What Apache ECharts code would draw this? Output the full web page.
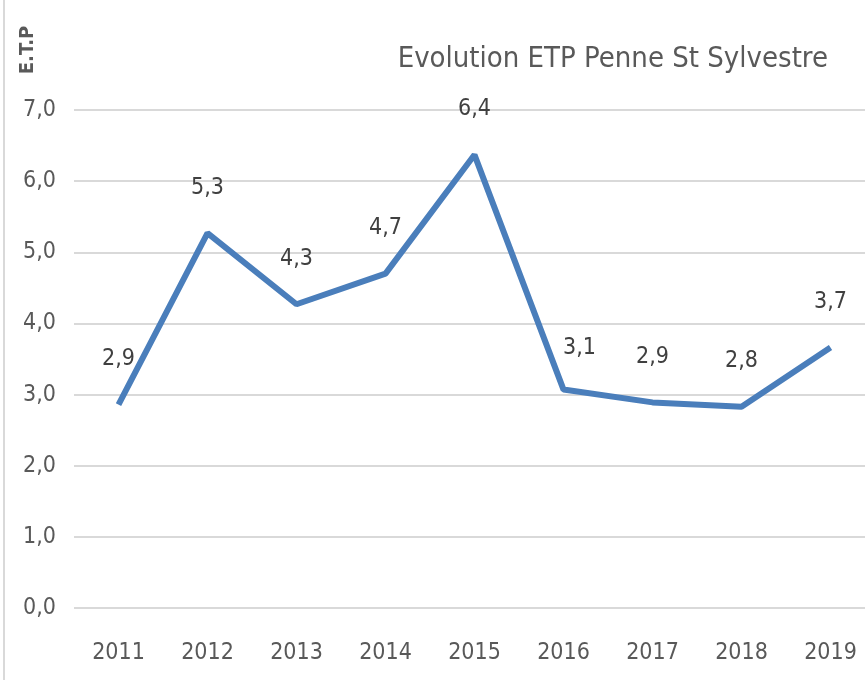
<!DOCTYPE html>
<html lang="fr">
  <head>
    <meta charset="UTF-8" />
    <title>Evolution ETP</title>
    <script src="https://cdn.jsdelivr.net/npm/echarts@6/dist/echarts.min.js"></script>
    <style>
      html, body { margin: 0; padding: 0; background: #fff; }
    </style>
  </head>
  <body>
    <div id="main" style="width: 865px; height: 680px;"></div>
    <script>
      // données
      var years = ["2011", "2012", "2013", "2014", "2015", "2016", "2017", "2018", "2019"];
      var etp = [2.86, 5.27, 4.27, 4.7, 6.37, 3.07, 2.89, 2.83, 3.66];
      var yTicks = [0, 1, 2, 3, 4, 5, 6, 7];

      var font = "'Liberation Sans Narrow', 'DejaVu Sans Condensed', sans-serif";
      function fr(v) {
        return v.toFixed(1).replace(".", ",");
      }

      // l'étiquette 2016 est décalée à droite dans l'original
      var points = etp.map(function (v, i) {
        if (i === 5) return { value: v, label: { offset: [16, 4] } };
        return v;
      });

      var myChart = echarts.init(document.getElementById("main"));
      var option = {
        animation: false,
        title: {
          text: "Evolution ETP Penne St Sylvestre",
          right: 32,
          top: 40,
          textStyle: { fontFamily: font, fontSize: 29, fontWeight: "normal", color: "#595959" }
        },
        graphic: [
          {
            type: "line",
            shape: { x1: 4, y1: 0, x2: 4, y2: 680 },
            style: { stroke: "#d9d9d9", lineWidth: 2 }
          },
          {
            type: "text",
            x: 28,
            y: 50,
            rotation: Math.PI / 2,
            style: {
              text: "E.T.P",
              align: "center",
              verticalAlign: "middle",
              fontFamily: font,
              fontSize: 20,
              fontWeight: "bold",
              fill: "#595959"
            }
          }
        ],
        grid: { left: 74, width: 801, top: 110, bottom: 72, outerBoundsMode: "none" },
        xAxis: {
          type: "category",
          data: years,
          axisLine: { show: false },
          axisTick: { show: false },
          axisLabel: { margin: 34, fontFamily: font, fontSize: 23, color: "#595959" }
        },
        yAxis: {
          type: "value",
          min: yTicks[0],
          max: yTicks[yTicks.length - 1],
          interval: 1,
          axisLabel: {
            margin: 18,
            fontFamily: font,
            fontSize: 23,
            color: "#595959",
            formatter: function (v) { return fr(v); }
          },
          splitLine: { lineStyle: { color: "#d9d9d9", width: 2 } }
        },
        series: [
          {
            type: "line",
            data: points,
            symbol: "circle",
            symbolSize: 0,
            lineStyle: { color: "#4a7ebb", width: 6 },
            itemStyle: { color: "#4a7ebb" },
            label: {
              show: true,
              position: "top",
              distance: 34,
              fontFamily: font,
              fontSize: 23,
              color: "#404040",
              formatter: function (p) { return fr(p.value); }
            }
          }
        ]
      };
      myChart.setOption(option);
    </script>
  </body>
</html>
